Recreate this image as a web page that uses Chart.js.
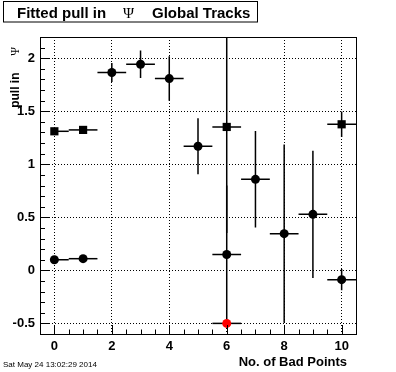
<!DOCTYPE html>
<html>
<head>
<meta charset="utf-8">
<script src="https://cdn.jsdelivr.net/npm/chart.js@4.4.0/dist/chart.umd.min.js"></script>
<style>
  html, body { margin: 0; padding: 0; background: #fff; }
  canvas { display: block; }
</style>
</head>
<body>
<canvas id="myChart" width="396" height="372"></canvas>
<script>
// circles: fitted pull vs number of bad points
const circX = [0, 1, 2, 3, 4, 5, 6, 7, 8, 9, 10];
const circY = [0.10, 0.11, 1.865, 1.943, 1.808, 1.17, 0.15, 0.858, 0.346, 0.528, -0.088];
const circErr = [0, 0, 0.09, 0.13, 0.21, 0.265, 0.65, 0.455, 0.84, 0.6, 0.1];

// squares
const sqX = [0, 1, 6, 10];
const sqY = [1.311, 1.324, 1.352, 1.377];
const sqErr = [0, 0, 1.0, 0.12];

// red point
const redX = [6];
const redY = [-0.5];
const redErr = [0];

const xErr = 0.5;

const xTicks = [0, 2, 4, 6, 8, 10];
const xTickLabels = ['0', '2', '4', '6', '8', '10'];
const yTicks = [-0.5, 0, 0.5, 1, 1.5, 2];
const yTickLabels = ['-0.5', '0', '0.5', '1', '1.5', '2'];

const font = 'Liberation Sans, Arial, Helvetica, sans-serif';

function pts(xs, ys) {
  return xs.map((x, i) => ({ x: x, y: ys[i] }));
}

const errorBars = {
  id: 'errorBars',
  beforeDatasetsDraw(chart) {
    const { ctx, chartArea: a, scales: { x, y } } = chart;
    const sets = [[circX, circY, circErr], [sqX, sqY, sqErr], [redX, redY, redErr]];
    ctx.save();
    ctx.beginPath();
    ctx.rect(a.left, a.top, a.right - a.left, a.bottom - a.top);
    ctx.clip();
    ctx.strokeStyle = '#000';
    ctx.lineWidth = 1.5;
    sets.forEach(([xs, ys, es]) => {
      xs.forEach((xv, i) => {
        const px = x.getPixelForValue(xv);
        const py = y.getPixelForValue(ys[i]);
        ctx.beginPath();
        // left arm is dropped when it would start on the frame edge
        const lo = xv - xErr > x.min ? xv - xErr : xv;
        ctx.moveTo(x.getPixelForValue(lo), py);
        ctx.lineTo(x.getPixelForValue(xv + xErr), py);
        if (es[i] > 0) {
          ctx.moveTo(px, y.getPixelForValue(ys[i] + es[i]));
          ctx.lineTo(px, y.getPixelForValue(ys[i] - es[i]));
        }
        ctx.stroke();
      });
    });
    ctx.restore();
  }
};

const frame = {
  id: 'frame',
  afterDatasetsDraw(chart) {
    const { ctx, chartArea: a, scales: { x, y } } = chart;
    ctx.save();
    ctx.strokeStyle = '#000';
    ctx.lineWidth = 1;
    ctx.strokeRect(Math.round(a.left) + 0.5, Math.round(a.top) + 0.5,
      Math.round(a.right - a.left), Math.round(a.bottom - a.top));
    ctx.beginPath();
    // x ticks: major every 2, minor every 0.5
    for (let v = -0.5; v <= 10.5; v += 0.5) {
      const px = Math.round(x.getPixelForValue(v)) + 0.5;
      const len = v % 2 === 0 ? 9 : 4.5;
      ctx.moveTo(px, a.bottom);
      ctx.lineTo(px, a.bottom - len);
    }
    // y ticks: major every 0.5, minor every 0.1
    for (let k = -6; k <= 22; k++) {
      const py = Math.round(y.getPixelForValue(k / 10)) + 0.5;
      const len = k % 5 === 0 ? 9.5 : 5;
      ctx.moveTo(a.left, py);
      ctx.lineTo(a.left + len, py);
    }
    ctx.stroke();
    ctx.restore();
  },
  afterDraw(chart) {
    const { ctx } = chart;
    ctx.save();
    ctx.fillStyle = '#000';
    ctx.strokeStyle = '#000';
    ctx.lineWidth = 1;
    // title box
    ctx.strokeRect(3.5, 1.5, 254, 20.5);
    ctx.textBaseline = 'alphabetic';
    ctx.font = 'bold 15px ' + font;
    ctx.fillText('Fitted pull in', 17, 17.5);
    ctx.fillText('Global Tracks', 152, 17.5);
    ctx.font = '15px "Liberation Serif", "DejaVu Serif", serif';
    ctx.fillText('Ψ', 123, 17.5);
    // y title
    ctx.save();
    ctx.translate(19, 47);
    ctx.rotate(-Math.PI / 2);
    ctx.textAlign = 'right';
    ctx.font = '12px "Liberation Serif", "DejaVu Serif", serif';
    ctx.fillText('Ψ', 0, 0);
    ctx.font = 'bold 12px ' + font;
    ctx.fillText('pull in', -25.5, 0);
    ctx.restore();
    // x title
    ctx.textAlign = 'right';
    ctx.font = 'bold 13px ' + font;
    ctx.fillText('No. of Bad Points', 347, 366);
    // date stamp
    ctx.textAlign = 'left';
    ctx.font = '8px ' + font;
    ctx.fillText('Sat May 24 13:02:29 2014', 3, 366.5);
    ctx.restore();
  }
};

const ctx = document.getElementById('myChart');

new Chart(ctx, {
  type: 'scatter',
  data: {
    datasets: [{
      label: 'circles',
      data: pts(circX, circY),
      pointStyle: 'circle',
      pointRadius: 4.5,
      backgroundColor: '#000',
      borderWidth: 0
    }, {
      label: 'squares',
      data: pts(sqX, sqY),
      pointStyle: 'rect',
      pointRadius: 5.8,
      backgroundColor: '#000',
      borderWidth: 0
    }, {
      label: 'red',
      data: pts(redX, redY),
      pointStyle: 'circle',
      pointRadius: 4.5,
      backgroundColor: '#ff0000',
      borderWidth: 0
    }]
  },
  options: {
    responsive: false,
    animation: false,
    events: [],
    layout: { padding: { left: 0, right: 40, top: 37, bottom: 0 } },
    plugins: { legend: { display: false }, tooltip: { enabled: false } },
    scales: {
      x: {
        type: 'linear',
        min: -0.5,
        max: 10.5,
        afterFit: s => { s.height = 38; },
        afterBuildTicks: s => { s.ticks = xTicks.map(v => ({ value: v })); },
        grid: { color: '#000', lineWidth: 1, drawTicks: false },
        border: { display: false, dash: [1, 2] },
        ticks: {
          color: '#000',
          padding: 5,
          maxRotation: 0,
          font: { family: font, size: 13, weight: 'bold' },
          callback: (v, i) => xTickLabels[i]
        }
      },
      y: {
        type: 'linear',
        min: -0.6,
        max: 2.2,
        afterFit: s => { s.width = 40; },
        afterBuildTicks: s => { s.ticks = yTicks.map(v => ({ value: v })); },
        grid: { color: '#000', lineWidth: 1, drawTicks: false },
        border: { display: false, dash: [1, 2] },
        ticks: {
          color: '#000',
          padding: 5,
          font: { family: font, size: 13, weight: 'bold' },
          callback: (v, i) => yTickLabels[i]
        }
      }
    }
  },
  plugins: [errorBars, frame]
});
</script>
</body>
</html>
